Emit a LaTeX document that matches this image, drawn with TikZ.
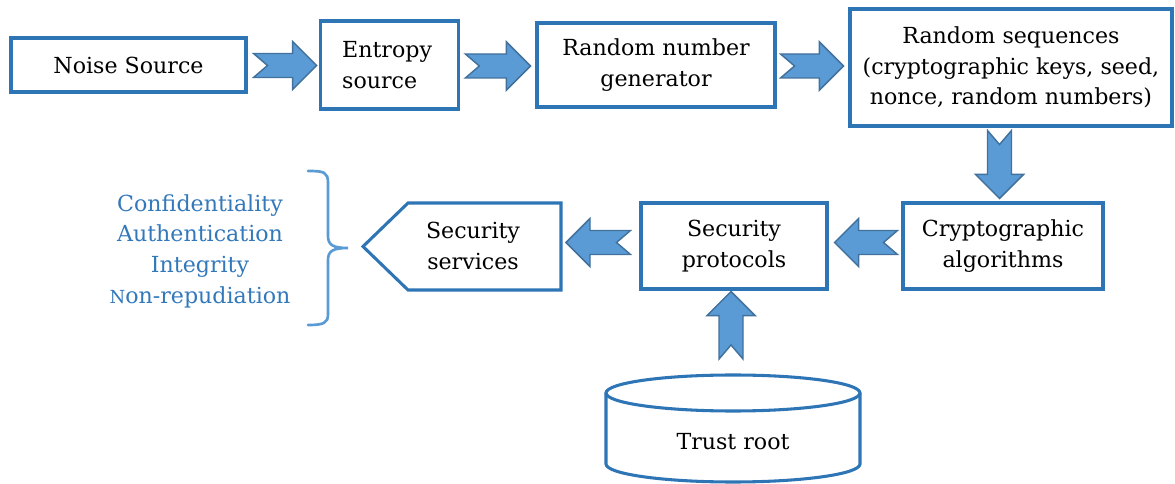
\documentclass[tikz,border=0pt]{standalone}
\usepackage{fontspec}
\setmainfont{DejaVu Serif}
\usetikzlibrary{calc}

\definecolor{boxblue}{RGB}{46,117,182}
\definecolor{arrowfill}{RGB}{91,155,213}
\definecolor{arrowline}{RGB}{65,113,156}
\definecolor{bracecol}{RGB}{91,155,213}
\definecolor{listblue}{RGB}{50,120,186}

\tikzset{
  boxline/.style={draw=boxblue, line width=2.3pt},
  box/.style={boxline, rectangle, inner sep=0pt, align=center},
  txt/.style={font=\fontsize{16.6pt}{23pt}\selectfont, text=black},
  fat/.style={fill=arrowfill, draw=arrowline, line width=1.1pt, line join=miter},
  bracestyle/.style={draw=bracecol, line width=2pt, line cap=round},
}

% notched block arrow from #1 to #2 (coordinates in parentheses)
\newcommand\fatarrow[2]{%
  \draw[fat] let \p1=#1, \p2=#2,
      \n1={atan2(\y2-\y1,\x2-\x1)},
      \n2={veclen(\x2-\x1,\y2-\y1)} in
    [shift={(\p1)}, rotate=\n1]
    (0pt,9pt) -- ({\n2-18pt},9pt) -- ({\n2-18pt},18pt) -- ({\n2+0pt},0pt)
    -- ({\n2-18pt},-18pt) -- ({\n2-18pt},-9pt) -- (0pt,-9pt) -- (10.5pt,0pt) -- cycle;
}

\begin{document}
\begin{tikzpicture}[x=0.75pt, y=-0.75pt, every node/.style={txt}]
\useasboundingbox (0,0) rectangle (1175,484);

% top row
\node[box, minimum width={235*0.75pt}, minimum height={54*0.75pt}] (noise) at (128.5,65) {Noise Source};
\node[box, align=left, text width=71pt, inner xsep=16.5pt,
      minimum height={88*0.75pt}] (entropy) at (389.5,65) {Entropy\\source};
\node[box, minimum width={238*0.75pt}, minimum height={84*0.75pt}] (rng) at (656,65) {Random number\\generator};
\node[box, minimum width={322*0.75pt}, minimum height={117*0.75pt}] (rseq) at (1011,67.5)
  {Random sequences\\(cryptographic keys, seed,\\nonce, random numbers)};

% middle row
\node[box, minimum width={200*0.75pt}, minimum height={86*0.75pt}] (crypto) at (1003,246) {Cryptographic\\algorithms};
\node[box, minimum width={186*0.75pt}, minimum height={86*0.75pt}] (prot) at (734,246) {Security\\protocols};
\node[align=center] (svc) at (473,246) {Security\\services};
\draw[boxline] (363,246.5) -- (408,203) -- (561,203) -- (561,290) -- (408,290) -- cycle;
\coordinate (svcR) at (561,246.5);

% trust root cylinder
\node (trust) at (733,442) {Trust root};
\coordinate (cyltop) at (733,375);
\draw[boxline] (606,393) -- (606,464) arc[start angle=180, end angle=0, x radius=127, y radius=18] -- (860,393);
\draw[boxline] (733,393) ellipse [x radius=127, y radius=18];

% security goals with brace
\node[align=center, text=listblue] (goals) at (200,251)
  {Confidentiality\\Authentication\\Integrity\\{\fontsize{13.5pt}{16pt}\selectfont N}on-repudiation};
\coordinate (bracetip) at (348,248);
\draw[bracestyle] (308,171) .. controls (324,171) and (328,172) .. (328,183) -- (328,236)
  .. controls (328,245) and (333,248) .. (bracetip)
  .. controls (333,248) and (328,251) .. (328,260) -- (328,314)
  .. controls (328,323) and (324,325) .. (308,325);

% block arrows
\fatarrow{($(noise.east)+(6,0.5)$)}{($(entropy.west)+(-2,0.5)$)}
\fatarrow{($(entropy.east)+(5,1)$)}{($(rng.west)+(-5,1)$)}
\fatarrow{($(rng.east)+(4,1)$)}{($(rseq.west |- rng.east)+(-5,1)$)}
\fatarrow{($(crypto.north |- rseq.south)+(-3.5,3)$)}{($(crypto.north)+(-3.5,-3)$)}
\fatarrow{($(crypto.west)+(-4,-3.5)$)}{($(prot.east)+(6,-3.5)$)}
\fatarrow{($(prot.west)+(-9,-3.5)$)}{($(svcR)+(5,-4)$)}
\fatarrow{($(cyltop)+(-2,-16)$)}{($(prot.south)+(-3,1)$)}
\end{tikzpicture}
\end{document}
